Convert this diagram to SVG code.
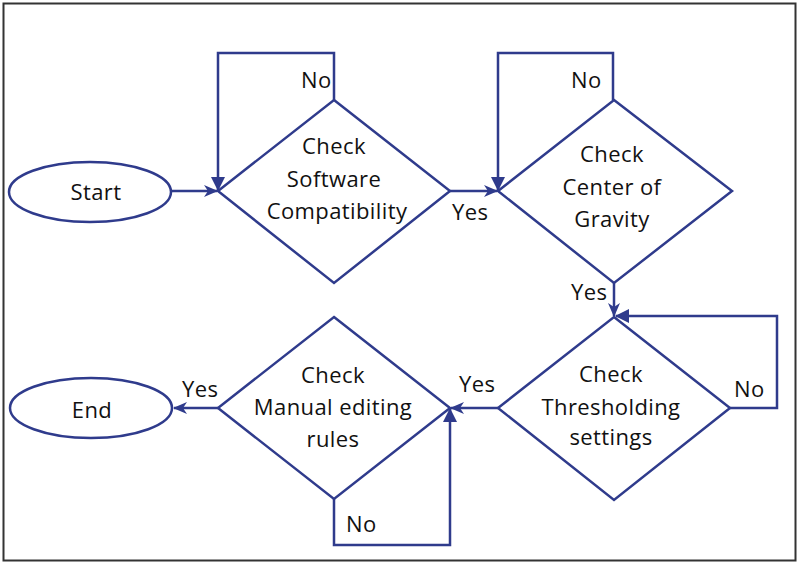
<svg xmlns="http://www.w3.org/2000/svg" width="800" height="565" viewBox="0 0 800 565">
<defs>
<style>
.shape{fill:#fff;stroke:#2F3B8C;stroke-width:2.5}
.line{fill:none;stroke:#2F3B8C;stroke-width:2.5}
text{font-family:"Open Sans","Noto Sans","Liberation Sans",sans-serif;font-size:22px;letter-spacing:0.4px;fill:#111}
.c{text-anchor:middle}
</style>
<marker id="stealth" markerUnits="userSpaceOnUse" viewBox="0 0 14 12" refX="13" refY="6" markerWidth="14" markerHeight="12" orient="auto">
<path d="M0,0 L14,6 L0,12 L4,6 z" fill="#2F3B8C"/>
</marker>
<marker id="tri" markerUnits="userSpaceOnUse" viewBox="0 0 14 14" refX="13" refY="7" markerWidth="14" markerHeight="14" orient="auto">
<path d="M0,0 L14,7 L0,14 z" fill="#2F3B8C"/>
</marker>
</defs>
<rect x="3.5" y="3.5" width="792" height="557" fill="#fff" stroke="#333" stroke-width="2"/>
<g id="connectors">
<path class="line" d="M172,191 H217" marker-end="url(#stealth)"/>
<path class="line" d="M334,100 V53 H218 V190" marker-end="url(#tri)"/>
<path class="line" d="M450,191 H497" marker-end="url(#stealth)"/>
<path class="line" d="M613,100 V53 H498 V190" marker-end="url(#tri)"/>
<path class="line" d="M614,283 V316" marker-end="url(#stealth)"/>
<path class="line" d="M730,408 H777 V316 H616" marker-end="url(#tri)"/>
<path class="line" d="M498,408 H451" marker-end="url(#stealth)"/>
<path class="line" d="M334,499 V545 H450 V409" marker-end="url(#tri)"/>
<path class="line" d="M218,408 H174" marker-end="url(#stealth)"/>
</g>
<g id="start">
<ellipse class="shape" cx="90" cy="192" rx="81" ry="30"/>
<text class="c" x="96" y="200">Start</text>
</g>
<g id="check-software">
<polygon class="shape" points="334,100 450,191 334,283 218,191"/>
<text class="c" x="334" y="154">Check</text>
<text class="c" x="334" y="187">Software</text>
<text class="c" x="337" y="219">Compatibility</text>
</g>
<g id="check-gravity">
<polygon class="shape" points="614,100 732,191 614,283 498,191"/>
<text class="c" x="612" y="162">Check</text>
<text class="c" x="612" y="195">Center of</text>
<text class="c" x="612" y="227">Gravity</text>
</g>
<g id="check-threshold">
<polygon class="shape" points="614,317 730,408 614,500 498,408"/>
<text class="c" x="611" y="382">Check</text>
<text class="c" x="611" y="415">Thresholding</text>
<text class="c" x="611" y="445">settings</text>
</g>
<g id="check-manual">
<polygon class="shape" points="334,317 450,408 334,499 218,408"/>
<text class="c" x="333" y="383">Check</text>
<text class="c" x="333" y="415">Manual editing</text>
<text class="c" x="333" y="447">rules</text>
</g>
<g id="end">
<ellipse class="shape" cx="91" cy="408" rx="81" ry="30"/>
<text class="c" x="92" y="418">End</text>
</g>
<g id="labels">
<text x="301" y="88">No</text>
<text x="571" y="88">No</text>
<text x="452" y="220">Yes</text>
<text x="571" y="300">Yes</text>
<text x="734" y="397">No</text>
<text x="459" y="392">Yes</text>
<text x="182" y="397">Yes</text>
<text x="346" y="532">No</text>
</g>
</svg>
